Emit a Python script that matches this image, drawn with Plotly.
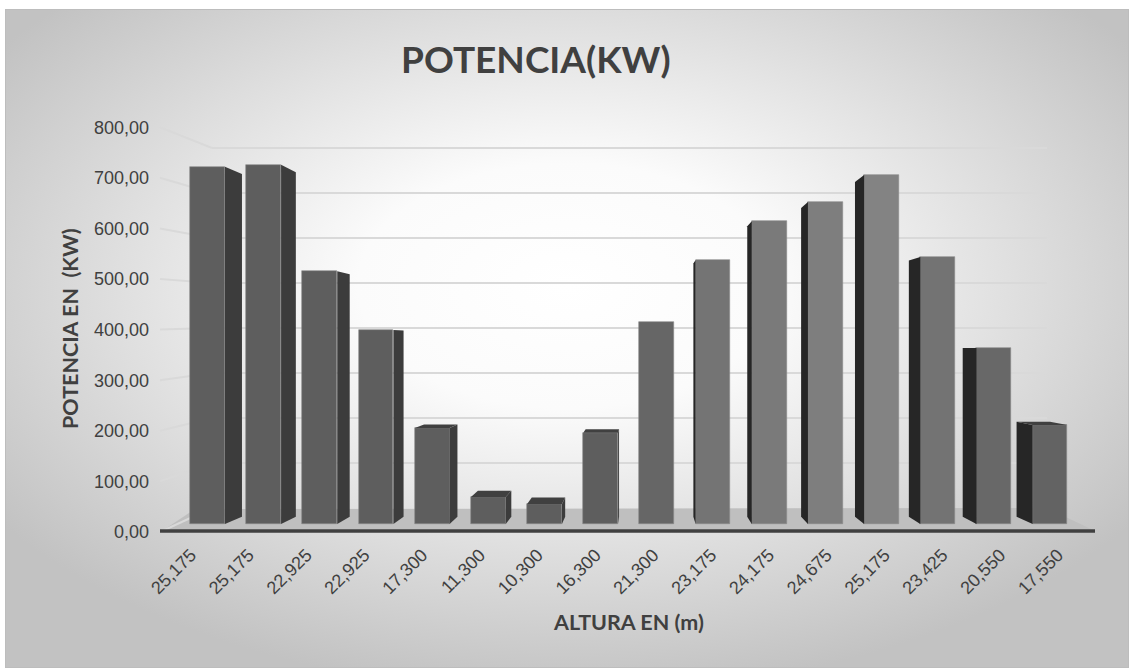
import urllib.parse
import plotly.graph_objects as go

# ---- data -------------------------------------------------------------
alturas = ["25,175", "25,175", "22,925", "22,925", "17,300", "11,300", "10,300", "16,300",
           "21,300", "23,175", "24,175", "24,675", "25,175", "23,425", "20,550", "17,550"]
potencia_kw = [729, 733, 516, 396, 196, 55, 41, 186, 412, 539, 618, 657, 712, 545, 359, 202]
y_ticks = [0, 100, 200, 300, 400, 500, 600, 700, 800]
y_tick_text = ["0,00", "100,00", "200,00", "300,00", "400,00", "500,00", "600,00", "700,00", "800,00"]

# ---- canvas / projection constants ------------------------------------
W, H = 1129, 668
ML, MR, MT, MB = 150, 29, 100, 128           # plot area in pixels
PX0, SX = 207.5, 56.17                        # pixel of category 0, pixels per category
PY0, SY = 524.0, 0.49                          # pixel of value 0 (bar front plane), px per kW


def to_x(p):
    return (p - PX0) / SX


def to_y(q):
    return (PY0 - q) / SY


VPX, VPY = to_x(641), to_y(345)               # vanishing point
DEPTH = 0.959                                  # back face shrink toward vanishing point
HALF = 0.31                                    # half bar width (categories)

BACK_L, BACK_R, BACK_Z, BACK_S = 212, 1047, 508, 0.45   # back wall (pixels)
SIDE_X, SIDE_Z, SIDE_S = 160, 532, 0.506                 # side wall front edge (pixels)
LAB_X0, LAB_SX = 191, 57.8                                # category label spacing on the front edge

TXT = "#404040"
GRID = "#d9d9d9"
TICK_FONT = "Arial, Liberation Sans, sans-serif"
HEAD_FONT = "Lato, sans-serif"


def back(xv, yv):
    return VPX + (xv - VPX) * DEPTH, VPY + (yv - VPY) * DEPTH


front_cols = ["#5e5e5e"] * 8 + ["#666666", "#747474", "#7a7a7a", "#7e7e7e", "#838383",
                                "#737373", "#686868", "#636363"]

fig = go.Figure()

# ---- side and top faces -------------------------------------------------
for i, v in enumerate(potencia_kw):
    l, r = i - HALF, i + HALF
    if r < VPX:
        bx0, by0 = back(r, 0)
        bx1, by1 = back(r, v)
        fig.add_trace(go.Scatter(x=[r, r, bx1, bx0, r], y=[0, v, by1, by0, 0],
                                 fill="toself", fillcolor="#3c3c3c", mode="lines",
                                 line=dict(width=0), hoverinfo="skip", showlegend=False))
    elif l > VPX:
        bx0, by0 = back(l, 0)
        bx1, by1 = back(l, v)
        fig.add_trace(go.Scatter(x=[l, l, bx1, bx0, l], y=[0, v, by1, by0, 0],
                                 fill="toself", fillcolor="#262626", mode="lines",
                                 line=dict(width=0), hoverinfo="skip", showlegend=False))
    if v < VPY:
        blx, bly = back(l, v)
        brx, bry = back(r, v)
        fig.add_trace(go.Scatter(x=[l, r, brx, blx, l], y=[v, v, bry, bly, v],
                                 fill="toself", fillcolor="#404040", mode="lines",
                                 line=dict(width=0), hoverinfo="skip", showlegend=False))

# ---- front faces ----------------------------------------------------------
fig.add_trace(go.Bar(x=list(range(len(potencia_kw))), y=potencia_kw, width=2 * HALF,
                     marker=dict(color=front_cols, line=dict(color="#8a8a8a", width=0.6)),
                     showlegend=False, hoverinfo="skip"))

# invisible trace carrying the category labels along the front floor edge
fig.add_trace(go.Scatter(x=list(range(len(alturas))), y=[0] * len(alturas), xaxis="x2",
                         mode="markers", marker=dict(opacity=0), hoverinfo="skip",
                         showlegend=False))

# ---- walls, floor and gridlines --------------------------------------------
shapes = []
floor_pts = [(162, 531), (1095, 531), (1047, 508), (195, 509)]
path = "M " + " L ".join(f"{to_x(a)},{to_y(b)}" for a, b in floor_pts) + " Z"
shapes.append(dict(type="path", path=path, xref="x", yref="y", layer="below",
                   fillcolor="#bfbfbf", line=dict(width=0)))
for v in y_ticks:
    yb = BACK_Z - BACK_S * v
    ys = SIDE_Z - SIDE_S * v
    shapes.append(dict(type="line", xref="x", yref="y", layer="below",
                       x0=to_x(SIDE_X), y0=to_y(ys), x1=to_x(BACK_L), y1=to_y(yb),
                       line=dict(color=GRID, width=2)))
    if v > 0:
        shapes.append(dict(type="line", xref="x", yref="y", layer="below",
                           x0=to_x(BACK_L), y0=to_y(yb), x1=to_x(BACK_R), y1=to_y(yb),
                           line=dict(color=GRID, width=2)))
shapes.append(dict(type="line", xref="x", yref="y", layer="below",
                   x0=to_x(160), y0=to_y(531), x1=to_x(1095), y1=to_y(531),
                   line=dict(color="#404040", width=3.5)))

# ---- background (radial gradient + frame) ----------------------------------
svg = ("<svg xmlns='http://www.w3.org/2000/svg' width='1124' height='659'>"
       "<defs><radialGradient id='g' cx='0.5' cy='0.42' r='0.62'>"
       "<stop offset='0' stop-color='#ffffff'/><stop offset='0.3' stop-color='#fbfbfb'/>"
       "<stop offset='1' stop-color='#c2c2c2'/></radialGradient></defs>"
       "<rect width='1124' height='659' fill='url(#g)' stroke='#bdbdbd' stroke-width='2'/></svg>")
src = "data:image/svg+xml;charset=utf-8," + urllib.parse.quote(svg)
pw, ph = W - ML - MR, H - MT - MB
img = dict(source=src, xref="paper", yref="paper",
           x=(5 - ML) / pw, y=(H - MB - 9) / ph,
           sizex=(W - 5) / pw, sizey=(H - 9) / ph,
           sizing="stretch", xanchor="left", yanchor="top", layer="below")


def px(p):
    return (p - ML) / pw


def py(q):
    return (H - MB - q) / ph


# ---- tick positions on the side wall front edge ------------------------------
ytick_pos = [to_y(SIDE_Z - SIDE_S * v) for v in y_ticks]
lab_lo = -(LAB_X0 - ML) / LAB_SX

fig.update_layout(
    width=W, height=H,
    margin=dict(l=ML, r=MR, t=MT, b=MB, pad=0),
    paper_bgcolor="white", plot_bgcolor="rgba(0,0,0,0)",
    shapes=shapes, images=[img],
    bargap=0,
    xaxis=dict(range=[to_x(ML), to_x(W - MR)], showgrid=False, zeroline=False,
               showticklabels=False, showline=False, fixedrange=True),
    xaxis2=dict(overlaying="x", anchor="y", side="bottom",
                range=[lab_lo, lab_lo + pw / LAB_SX],
                tickmode="array", tickvals=list(range(len(alturas))), ticktext=alturas,
                tickangle=-45, showgrid=False, zeroline=False, showline=False,
                tickfont=dict(family=TICK_FONT, size=18, color=TXT)),
    yaxis=dict(range=[to_y(H - MB), to_y(MT)], showgrid=False, zeroline=False,
               tickmode="array", tickvals=ytick_pos, ticktext=y_tick_text,
               ticks="", showline=False,
               tickfont=dict(family=TICK_FONT, size=18, color=TXT)),
    annotations=[
        dict(text="<b>POTENCIA(KW)</b>", xref="paper", yref="paper",
             x=px(536), y=py(58), xanchor="center", yanchor="middle", showarrow=False,
             font=dict(family=HEAD_FONT, size=37, color=TXT)),
        dict(text="<b>ALTURA EN (m)</b>", xref="paper", yref="paper",
             x=px(628), y=py(622), xanchor="center", yanchor="middle", showarrow=False,
             font=dict(family=HEAD_FONT, size=21.5, color=TXT)),
        dict(text="<b>POTENCIA EN  (KW)</b>", xref="paper", yref="paper",
             x=px(70), y=py(329), xanchor="center", yanchor="middle", showarrow=False,
             textangle=-90, font=dict(family=HEAD_FONT, size=21.5, color=TXT)),
    ],
)

fig.write_html("out.html")
